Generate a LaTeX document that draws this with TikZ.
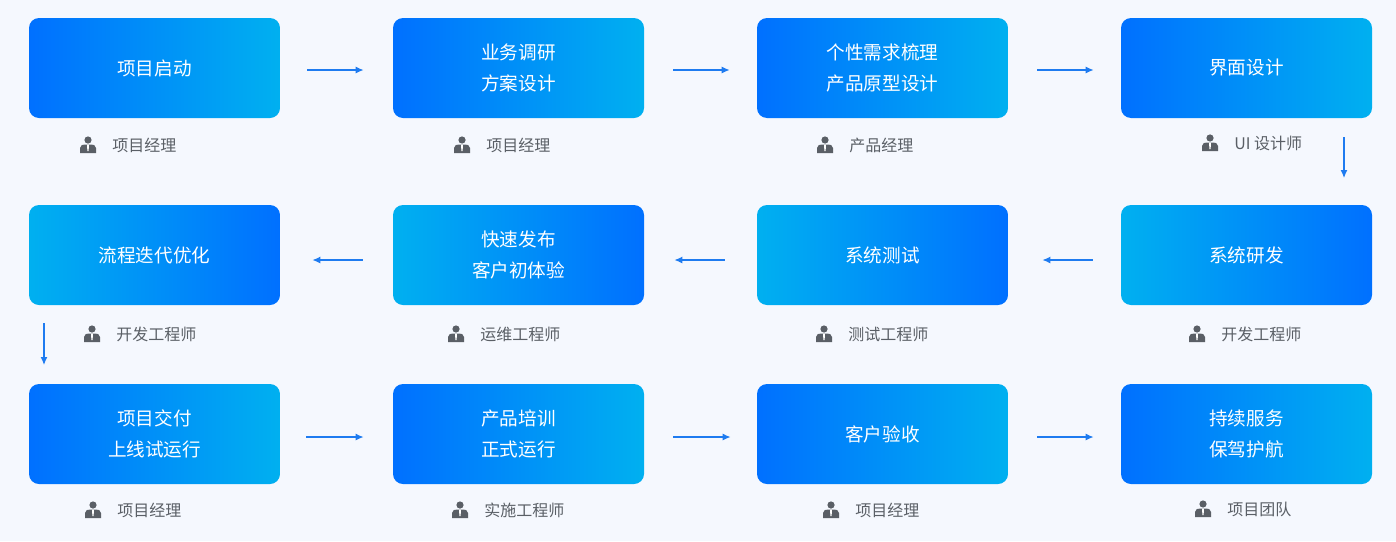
\documentclass[tikz,border=0pt]{standalone}
\usepackage{fontspec}
\setmainfont{Noto Sans CJK SC}
\usetikzlibrary{arrows.meta}
\definecolor{deep}{HTML}{0070FF}
\definecolor{sky}{HTML}{00B0F0}
\definecolor{paper}{HTML}{F5F8FE}
\definecolor{ink}{HTML}{5A5F66}
\definecolor{flow}{HTML}{1E7BF0}
\tikzset{
  stage/.style={rounded corners=5pt,minimum width=125.5pt,minimum height=50pt,
    text=white,font=\fontsize{9.3}{15.5}\selectfont,align=center},
  fwd/.style={stage,left color=deep,right color=sky},
  back/.style={stage,left color=sky,right color=deep},
  who/.style={text=ink,font=\fontsize{8}{10}\selectfont,anchor=west,inner sep=0pt},
  go/.style={draw=flow,line width=0.6pt,-{Latex[length=4pt,width=3.5pt]}},
  person/.pic={
    \fill[ink] (0,-5) circle (3.6);
    \fill[ink] (-8,8) -- (-8,3) .. controls (-8,0) and (-5,-0.5) .. (-3,-0.5)
      -- (3,-0.5) .. controls (5,-0.5) and (8,0) .. (8,3) -- (8,8) -- cycle;
    \fill[white] (-1,-0.5) -- (1,-0.5) -- (0.6,6) -- (-0.6,6) -- cycle;
  }
}
\newcommand{\who}[4]{%
  \node[who] (#1) at (#2,#3) {#4};
  \pic at ([xshift=-12pt]#1.west) {person};
}
\begin{document}
\begin{tikzpicture}[x=0.5pt,y=-0.5pt]
\fill[paper] (0,0) rectangle (1396,541);
% row 1
\node[fwd] (s1) at (154.5,68) {项目启动};
\node[fwd] (s2) at (518.5,68) {业务调研\\方案设计};
\node[fwd] (s3) at (882.5,68) {个性需求梳理\\产品原型设计};
\node[fwd] (s4) at (1246.5,68) {界面设计};
% row 2
\node[back] (s5) at (1246.5,255) {系统研发};
\node[back] (s6) at (882.5,255) {系统测试};
\node[back] (s7) at (518.5,255) {快速发布\\客户初体验};
\node[back] (s8) at (154.5,255) {流程迭代优化};
% row 3
\node[fwd] (s9) at (154.5,434) {项目交付\\上线试运行};
\node[fwd] (s10) at (518.5,434) {产品培训\\正式运行};
\node[fwd] (s11) at (882.5,434) {客户验收};
\node[fwd] (s12) at (1246.5,434) {持续服务\\保驾护航};
% roles
\who{r1}{112}{145}{项目经理}
\who{r2}{486}{145}{项目经理}
\who{r3}{849}{145}{产品经理}
\who{r4}{1234}{143}{UI 设计师}
\who{r5}{1221}{334}{开发工程师}
\who{r6}{848}{334}{测试工程师}
\who{r7}{480}{334}{运维工程师}
\who{r8}{116}{334}{开发工程师}
\who{r9}{117}{510}{项目经理}
\who{r10}{484}{510}{实施工程师}
\who{r11}{855}{510}{项目经理}
\who{r12}{1227}{509}{项目团队}
% links
\coordinate (d1) at (1344,137);
\coordinate (d2) at (1344,178);
\coordinate (d3) at (44,323);
\coordinate (d4) at (44,365);
\draw[go] ([xshift=13.5pt,yshift=-1pt]s1.east) -- ([xshift=-14.5pt,yshift=-1pt]s2.west);
\draw[go] ([xshift=14.5pt,yshift=-1pt]s2.east) -- ([xshift=-13.5pt,yshift=-1pt]s3.west);
\draw[go] ([xshift=14.5pt,yshift=-1pt]s3.east) -- ([xshift=-13.5pt,yshift=-1pt]s4.west);
\draw[go] (d1) -- (d2);
\draw[go] ([xshift=-14pt,yshift=-2.5pt]s5.west) -- ([xshift=17pt,yshift=-2.5pt]s6.east);
\draw[go] ([xshift=-16pt,yshift=-2.5pt]s6.west) -- ([xshift=15pt,yshift=-2.5pt]s7.east);
\draw[go] ([xshift=-15pt,yshift=-2.5pt]s7.west) -- ([xshift=16pt,yshift=-2.5pt]s8.east);
\draw[go] (d3) -- (d4);
\draw[go] ([xshift=13pt,yshift=-1.5pt]s9.east) -- ([xshift=-14.5pt,yshift=-1.5pt]s10.west);
\draw[go] ([xshift=14.5pt,yshift=-1.5pt]s10.east) -- ([xshift=-13pt,yshift=-1.5pt]s11.west);
\draw[go] ([xshift=14.5pt,yshift=-1.5pt]s11.east) -- ([xshift=-13.5pt,yshift=-1.5pt]s12.west);
\end{tikzpicture}
\end{document}
